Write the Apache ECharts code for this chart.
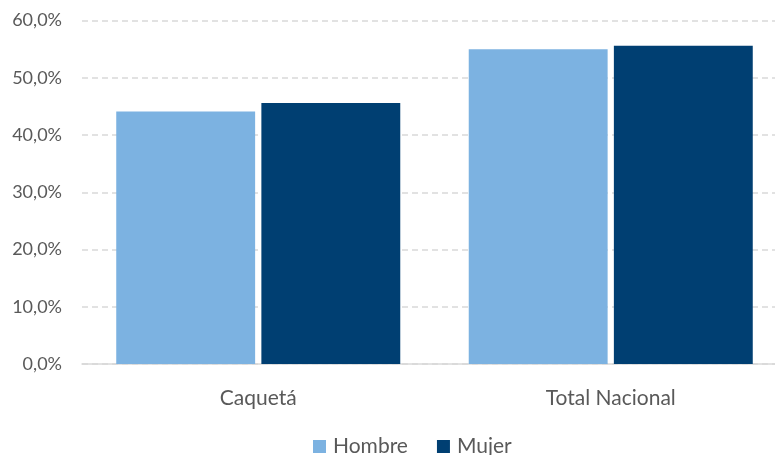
<!DOCTYPE html>
<html lang="es">
<head>
    <meta charset="UTF-8">
    <title>Hombre / Mujer</title>
    <style>
        html, body { margin: 0; padding: 0; background: #fff; }
        #chart { width: 775px; height: 455px; }
    </style>
</head>
<body>
    <div id="chart"></div>
    <script src="https://cdn.jsdelivr.net/npm/echarts@6/dist/echarts.min.js"></script>
    <script>
        // datos (%)
        const categories = ['Caquetá', 'Total Nacional'];
        const hombre = [44.1, 55.0];
        const mujer = [45.6, 55.6];
        const yTicks = { min: 0, max: 60, interval: 10 };

        const fmt = v => v.toFixed(1).replace('.', ',') + '%';
        const font = 'Lato, "Open Sans", sans-serif';

        const chart = echarts.init(document.getElementById('chart'));
        chart.setOption({
            animation: false,
            grid: { left: 82, width: 705, top: 20.5, bottom: 91, outerBoundsMode: 'none' },
            legend: {
                bottom: -7,
                left: 308,
                itemWidth: 13,
                itemHeight: 13,
                itemGap: 29,
                icon: 'rect',
                textStyle: { fontFamily: font, fontSize: 21, color: '#595959', padding: [0, 0, 0, 2] },
                data: ['Hombre', 'Mujer']
            },
            xAxis: {
                type: 'category',
                data: categories,
                axisLine: { lineStyle: { color: '#d9d9d9', width: 1.5 } },
                axisTick: { show: false },
                axisLabel: { fontFamily: font, fontSize: 21, color: '#595959', margin: 24 }
            },
            yAxis: {
                type: 'value',
                min: yTicks.min,
                max: yTicks.max,
                interval: yTicks.interval,
                axisLine: { show: false },
                axisTick: { show: false },
                axisLabel: { fontFamily: font, fontSize: 18, color: '#595959', margin: 20, formatter: fmt },
                splitLine: { lineStyle: { color: '#d9d9d9', type: [6, 4], width: 1.5 } }
            },
            series: [
                {
                    name: 'Hombre',
                    type: 'bar',
                    data: hombre,
                    barWidth: '39.4%',
                    barGap: '4.5%',
                    itemStyle: { color: '#7cb2e1' }
                },
                {
                    name: 'Mujer',
                    type: 'bar',
                    data: mujer,
                    barWidth: '39.4%',
                    itemStyle: { color: '#003f72' }
                }
            ]
        });
    </script>
</body>
</html>
